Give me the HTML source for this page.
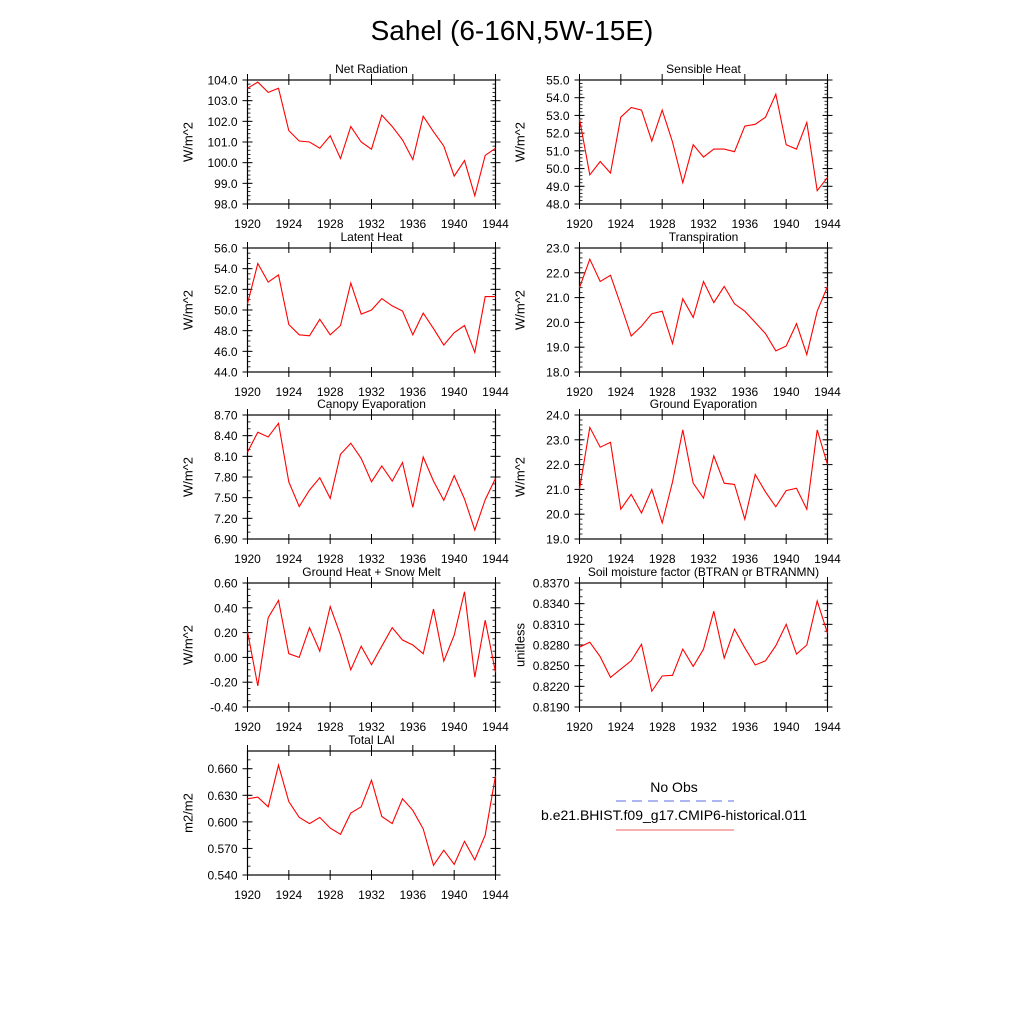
<!DOCTYPE html>
<html><head><meta charset="utf-8"><style>
body{margin:0;background:#fff;}
svg{display:block;font-family:"Liberation Sans",sans-serif;}
</style></head><body>
<svg id="fig" width="1024" height="1024" viewBox="0 0 1024 1024">
<rect width="1024" height="1024" fill="#fff"/>
<text x="512" y="40" font-size="28" text-anchor="middle">Sahel (6-16N,5W-15E)</text>
<g id="legend">
<text x="674" y="792" font-size="14" text-anchor="middle">No Obs</text>
<line x1="616" y1="801" x2="734" y2="801" stroke="#5a6ee6" stroke-width="1" stroke-dasharray="10,6"/>
<text x="674" y="820" font-size="14" text-anchor="middle">b.e21.BHIST.f09_g17.CMIP6-historical.011</text>
<line x1="616" y1="830" x2="734" y2="830" stroke="#f08080" stroke-width="1.2"/>
</g>
</svg>
<script>
const years = [1920,1921,1922,1923,1924,1925,1926,1927,1928,1929,1930,1931,1932,1933,1934,1935,1936,1937,1938,1939,1940,1941,1942,1943,1944];
const xTicks = [1920,1924,1928,1932,1936,1940,1944];
const netRad = [103.6,103.9,103.4,103.6,101.55,101.05,101.0,100.7,101.3,100.2,101.75,101.0,100.65,102.3,101.75,101.1,100.15,102.25,101.5,100.8,99.35,100.1,98.4,100.35,100.7];
const sensible = [52.8,49.65,50.4,49.75,52.9,53.45,53.3,51.55,53.3,51.5,49.2,51.35,50.65,51.1,51.1,50.95,52.4,52.5,52.9,54.2,51.35,51.1,52.6,48.75,49.5];
const latent = [50.6,54.5,52.7,53.4,48.6,47.6,47.5,49.1,47.6,48.5,52.6,49.6,50.0,51.1,50.4,49.9,47.6,49.7,48.2,46.6,47.8,48.5,45.9,51.3,51.3];
const transp = [21.4,22.55,21.65,21.9,20.7,19.45,19.85,20.35,20.45,19.15,20.95,20.2,21.65,20.8,21.45,20.75,20.45,20.0,19.55,18.85,19.05,19.95,18.7,20.45,21.45];
const canopy = [8.16,8.45,8.38,8.58,7.73,7.37,7.61,7.79,7.49,8.13,8.29,8.07,7.73,7.96,7.74,8.01,7.36,8.09,7.74,7.46,7.82,7.48,7.03,7.47,7.78];
const groundEvap = [21.0,23.5,22.7,22.9,20.2,20.8,20.05,21.0,19.65,21.3,23.4,21.25,20.65,22.35,21.25,21.2,19.8,21.6,20.9,20.3,20.95,21.05,20.2,23.4,22.0];
const groundHeat = [0.21,-0.23,0.32,0.46,0.03,0.0,0.24,0.05,0.41,0.18,-0.1,0.09,-0.06,0.09,0.24,0.14,0.10,0.03,0.39,-0.03,0.18,0.53,-0.16,0.30,-0.12];
const soilMoist = [0.8277,0.8284,0.8263,0.8233,0.8245,0.8257,0.8281,0.8213,0.8235,0.8236,0.8274,0.8249,0.8274,0.8329,0.8261,0.8303,0.8276,0.8251,0.8257,0.8279,0.8310,0.8267,0.8280,0.8344,0.8297];
const lai = [0.626,0.628,0.617,0.664,0.623,0.605,0.598,0.605,0.593,0.586,0.610,0.617,0.647,0.606,0.598,0.626,0.613,0.592,0.551,0.568,0.552,0.578,0.557,0.585,0.652];
const tNet=[98,99,100,101,102,103,104], tSen=[48,49,50,51,52,53,54,55], tLat=[44,46,48,50,52,54,56], tTr=[18,19,20,21,22,23];
const tCan=[6.9,7.2,7.5,7.8,8.1,8.4,8.7], tGe=[19,20,21,22,23,24], tGh=[-0.4,-0.2,0,0.2,0.4,0.6];
const tSoil=[0.819,0.822,0.825,0.828,0.831,0.834,0.837], tLai=[0.54,0.57,0.6,0.63,0.66];

const NS="http://www.w3.org/2000/svg";
const svg=document.getElementById('fig');
function mk(tag,attrs,parent){const e=document.createElementNS(NS,tag);for(const k in attrs)e.setAttribute(k,attrs[k]);parent.appendChild(e);return e;}
function panel(name,title,ylabel,data,ticks,dec,ymin,ymax,minorN,x0,y0){
  const w=248,h=124;
  const g=mk('g',{},svg);
  
  
  const xs=v=>x0+(v-1920)/24*w;
  const ys=v=>y0+h-(v-ymin)/(ymax-ymin)*h;
  const t=mk('text',{x:x0+w/2,y:y0-7,'font-size':12,'text-anchor':'middle'},g);
  
  
  t.textContent=title;
  const yl=mk('text',{x:0,y:0,'font-size':13,'text-anchor':'middle',transform:`translate(${x0-55},${y0+h/2}) rotate(-90)`},g);
  
  
  yl.textContent=ylabel;
  // ticks
  const step=ticks[1]-ticks[0];
  for(let i=0;i<ticks.length;i++){
    const v=ticks[i],y=ys(v);
    mk('line',{x1:x0-5,y1:y,x2:x0+5,y2:y,stroke:'#000','stroke-width':1},g);
    mk('line',{x1:x0+w-5,y1:y,x2:x0+w+5,y2:y,stroke:'#000','stroke-width':1},g);
    const lb=mk('text',{x:x0-10,y:y+4.5,'font-size':12,'text-anchor':'end'},g);
    
    
    lb.textContent=v.toFixed(dec);
  }
  for(let v=ticks[0];v<=ymax+1e-9;v+=step/minorN){
    const y=ys(v);
    mk('line',{x1:x0,y1:y,x2:x0+3,y2:y,stroke:'#000','stroke-width':0.8},g);
    mk('line',{x1:x0+w-3,y1:y,x2:x0+w,y2:y,stroke:'#000','stroke-width':0.8},g);
  }
  for(const yr of xTicks){
    const x=xs(yr);
    mk('line',{x1:x,y1:y0+h-5,x2:x,y2:y0+h+5,stroke:'#000','stroke-width':1},g);
    mk('line',{x1:x,y1:y0-6,x2:x,y2:y0+5,stroke:'#000','stroke-width':1},g);
    const lb=mk('text',{x:x,y:y0+h+24,'font-size':12,'text-anchor':'middle'},g);
    
    
    lb.textContent=yr;
  }
  const r=mk('rect',{x:x0,y:y0,width:w,height:h,fill:'none',stroke:'#000','stroke-width':1.2},g);
  
  
  const pts=data.map((v,i)=>xs(years[i]).toFixed(1)+','+ys(v).toFixed(1)).join(' ');
  const pl=mk('polyline',{points:pts,fill:'none',stroke:'#ff0000','stroke-width':1.1},g);
  
  
}
const L=247.5,R=579.5;
panel('net-radiation-panel','Net Radiation','W/m^2',netRad,tNet,1,98,104,5,L,80);
panel('sensible-heat-panel','Sensible Heat','W/m^2',sensible,tSen,1,48,55,5,R,80);
panel('latent-heat-panel','Latent Heat','W/m^2',latent,tLat,1,44,56,4,L,248);
panel('transpiration-panel','Transpiration','W/m^2',transp,tTr,1,18,23,5,R,248);
panel('canopy-evaporation-panel','Canopy Evaporation','W/m^2',canopy,tCan,2,6.9,8.7,3,L,415);
panel('ground-evaporation-panel','Ground Evaporation','W/m^2',groundEvap,tGe,1,19,24,5,R,415);
panel('ground-heat-panel','Ground Heat + Snow Melt','W/m^2',groundHeat,tGh,2,-0.4,0.6,4,L,583);
panel('soil-moisture-panel','Soil moisture factor (BTRAN or BTRANMN)','unitless',soilMoist,tSoil,4,0.819,0.837,3,R,583);
panel('total-lai-panel','Total LAI','m2/m2',lai,tLai,3,0.54,0.68,3,L,751);
</script>
</body></html>
